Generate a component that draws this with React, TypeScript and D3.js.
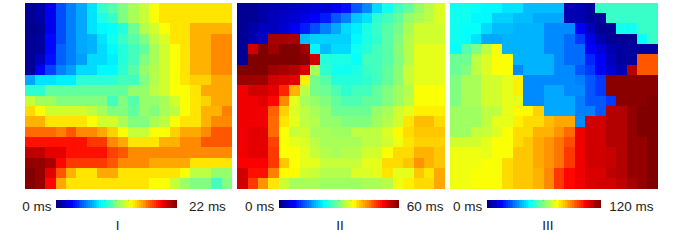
import React from 'react';
import * as d3 from 'd3';

// Levels, in percent of each panel's colour bar
const panelI = [
  [2,4,11,20,25,29,35,43,46,50,54,57,62,65,65,65,65,65,65,65],
  [2,4,11,20,25,29,35,40,43,50,54,57,62,65,65,65,65,65,65,65],
  [1,2,11,20,25,29,35,37,38,41,48,55,58,62,65,65,70,70,70,70],
  [2,3,13,20,25,29,30,35,39,43,46,50,56,59,65,65,70,70,74,74],
  [2,3,13,22,25,29,30,34,37,41,44,47,54,58,62,65,70,70,74,74],
  [2,6,14,22,25,28,34,34,36,41,44,50,54,58,62,65,70,70,74,74],
  [2,12,19,25,28,34,34,37,37,42,46,52,55,58,62,65,70,70,74,74],
  [29,35,35,36,36,42,42,42,42,44,44,50,55,58,62,65,67,67,71,71],
  [42,42,47,47,47,47,47,47,47,47,52,52,56,58,62,62,65,71,71,71],
  [57,53,53,50,50,50,50,50,44,50,46,52,52,54,58,62,65,67,71,71],
  [66,62,58,58,58,58,56,54,50,50,47,52,50,54,56,62,65,70,70,75],
  [70,70,65,65,65,65,62,58,58,54,50,50,54,56,62,65,65,70,74,74],
  [77,77,77,75,79,74,74,71,67,62,57,57,62,62,67,71,71,74,79,79],
  [86,86,86,86,86,86,82,82,74,71,65,65,65,70,70,74,74,79,79,79],
  [94,94,90,90,86,86,86,86,81,79,74,74,74,74,74,74,74,74,74,74],
  [98,98,96,87,82,82,82,82,79,74,74,74,71,71,71,71,65,65,65,65],
  [100,98,90,79,70,65,65,71,71,65,65,65,65,65,65,62,56,56,52,52],
  [100,98,87,71,65,65,65,65,65,65,65,65,62,62,57,53,50,50,44,50],
];

const panelII = [
  [2,2,4,5,6,7,8,9,9,11,14,21,26,34,39,44,47,52,55,59],
  [2,2,4,6,7,8,10,12,15,21,25,32,35,42,44,47,52,54,56,59],
  [2,4,6,6,8,11,15,20,25,29,34,36,40,43,46,49,54,58,58,58],
  [2,5,7,96,96,96,31,33,33,33,33,37,40,42,46,50,55,58,58,58],
  [2,92,100,97,100,100,97,37,31,34,34,39,41,44,46,51,55,60,60,60],
  [2,100,100,100,100,100,99,92,41,40,40,38,44,44,46,50,55,60,60,60],
  [100,100,100,97,96,95,91,54,42,39,39,40,43,44,47,51,57,60,60,60],
  [97,97,97,92,91,90,64,49,46,41,41,41,42,44,47,51,57,60,60,60],
  [89,92,92,90,84,70,56,49,48,45,42,44,44,47,50,53,55,62,62,62],
  [89,89,90,87,74,60,54,52,50,47,45,45,47,47,50,53,56,62,62,62],
  [89,89,89,78,67,59,56,54,52,48,48,48,48,52,54,58,60,64,64,64],
  [89,89,89,77,65,60,56,55,52,52,50,50,50,53,55,58,65,69,69,66],
  [89,90,90,77,62,57,58,54,54,53,53,56,56,56,59,63,66,68,68,68],
  [89,90,90,81,62,60,59,56,54,54,54,54,56,56,58,61,65,67,67,67],
  [89,90,90,82,62,62,60,57,55,54,55,55,58,58,62,66,66,70,70,68],
  [88,88,88,82,68,62,60,60,57,57,57,57,60,60,66,66,68,73,70,68],
  [92,86,86,75,63,63,58,57,55,55,55,59,59,60,65,60,60,68,65,71],
  [92,82,73,65,57,54,54,54,53,53,53,53,54,54,55,61,64,66,66,71],
];

const panelIII = [
  [39,39,38,37,37,35,35,31,31,31,31,5,5,3,43,43,43,43,43,43],
  [39,39,37,37,33,33,31,31,29,29,29,5,5,3,3,43,43,43,43,43],
  [39,38,38,34,31,31,30,30,30,26,26,26,12,6,2,2,39,39,43,43],
  [39,38,35,29,29,30,30,30,30,26,26,23,18,10,5,2,2,2,38,43],
  [38,46,50,56,62,30,30,30,30,26,26,23,23,12,9,5,3,3,3,3],
  [48,48,56,59,62,62,30,30,30,30,26,23,23,16,12,6,3,3,79,79],
  [48,50,56,59,62,62,26,30,30,30,26,26,21,18,12,8,5,95,79,79],
  [50,54,54,58,58,60,64,26,26,26,26,26,25,21,18,99,99,99,99,99],
  [50,54,54,58,58,60,64,26,26,29,29,26,26,21,18,99,99,99,99,99],
  [50,54,54,58,58,60,60,26,26,29,29,29,25,21,21,18,99,99,99,100],
  [53,53,53,56,56,60,63,63,67,29,29,29,25,25,21,95,95,98,100,100],
  [53,53,53,56,60,60,64,66,66,69,71,71,26,92,92,95,95,98,100,100],
  [53,53,57,57,59,62,66,66,70,70,73,77,89,92,92,95,95,98,100,100],
  [58,58,58,60,62,62,66,68,71,73,76,80,89,92,92,95,95,98,98,100],
  [61,61,61,60,62,62,68,68,71,73,76,82,89,92,92,93,95,98,98,100],
  [61,61,61,62,62,66,68,68,71,73,76,82,89,92,92,93,95,98,98,100],
  [61,61,62,62,62,66,68,68,70,74,82,87,89,91,91,94,95,98,98,100],
  [61,61,62,62,62,66,68,68,70,74,82,87,89,91,92,92,94,96,98,100],
];

const maxValues = [22, 60, 120];
const panelNames = ['I', 'II', 'III'];
const panelLevels = [panelI, panelII, panelIII];

const left = [24.5, 237.3, 450.3];
const barLeft = [56, 278.7, 486.7];
const barWidths = [120.6, 120, 113.6];
const maxLabelGap = [12.5, 8, 9];
const nameX = [117.7, 340, 548];
const gridWidth = 207.4;
const gridTop = 2.5;
const gridHeight = 186;

const clamp = (v: number) => Math.max(0, Math.min(1, v));
// matlab style jet
const jet = (t: number) => {
  const r = clamp(1.5 - Math.abs(4 * t - 3));
  const g = clamp(1.5 - Math.abs(4 * t - 2));
  const b = clamp(1.5 - Math.abs(4 * t - 1));
  return d3.rgb(r * 255, g * 255, b * 255).formatHex();
};

const barSteps = d3.range(64);

function Panel({ index }: { index: number }) {
  const levels = panelLevels[index];
  const max = maxValues[index];
  const x = d3.scaleBand<number>().domain(d3.range(20)).range([left[index], left[index] + gridWidth]);
  const y = d3.scaleBand<number>().domain(d3.range(18)).range([gridTop, gridTop + gridHeight]);
  const color = d3.scaleSequential(jet).domain([0, max]);

  const barWidth = barWidths[index];
  const bar = d3.scaleBand<number>().domain(barSteps).range([barLeft[index], barLeft[index] + barWidth]);
  const barTicks = d3.scaleLinear().domain([0, 10]).range([barLeft[index], barLeft[index] + barWidth]);

  return (
    <g>
      <g filter="url(#soft)" shapeRendering="crispEdges">
        {levels.map((row, j) =>
          row.map((lv, i) => (
            <rect
              key={`${j}-${i}`}
              x={x(i)}
              y={y(j)}
              width={x.bandwidth()}
              height={y.bandwidth()}
              fill={color((lv / 100) * max)}
            />
          ))
        )}
      </g>
      <g filter="url(#soft)" shapeRendering="crispEdges">
        {barSteps.map((s) => (
          <rect
            key={s}
            x={bar(s)}
            y={199.5}
            width={bar.bandwidth() + 0.5}
            height={8.5}
            fill={jet(s / 63)}
          />
        ))}
      </g>
      {/* faint ticks along the top of the colour bar */}
      {d3.range(1, 10).map((t) => (
        <line key={t} x1={barTicks(t)} x2={barTicks(t)} y1={199.5} y2={201} stroke="#555" strokeOpacity={0.45} strokeWidth={0.6} />
      ))}
      <text x={barLeft[index] - 4.5} y={210.5} textAnchor="end">0 ms</text>
      <text x={barLeft[index] + barWidth + maxLabelGap[index]} y={210.5}>{max} ms</text>
      <text x={nameX[index]} y={229.5} textAnchor="middle">{panelNames[index]}</text>
    </g>
  );
}

export default function App() {
  return (
    <svg
      width={685}
      height={240}
      style={{ position: 'absolute', left: 0, top: 0, background: '#fff' }}
      fontFamily="'Liberation Sans', sans-serif"
      fontSize={13.5}
      fill="#222"
    >
      <defs>
        <filter id="soft" x="-5%" y="-20%" width="110%" height="140%" colorInterpolationFilters="sRGB">
          <feGaussianBlur stdDeviation={0.45} />
        </filter>
      </defs>
      {maxValues.map((_, i) => (
        <Panel key={i} index={i} />
      ))}
    </svg>
  );
}
